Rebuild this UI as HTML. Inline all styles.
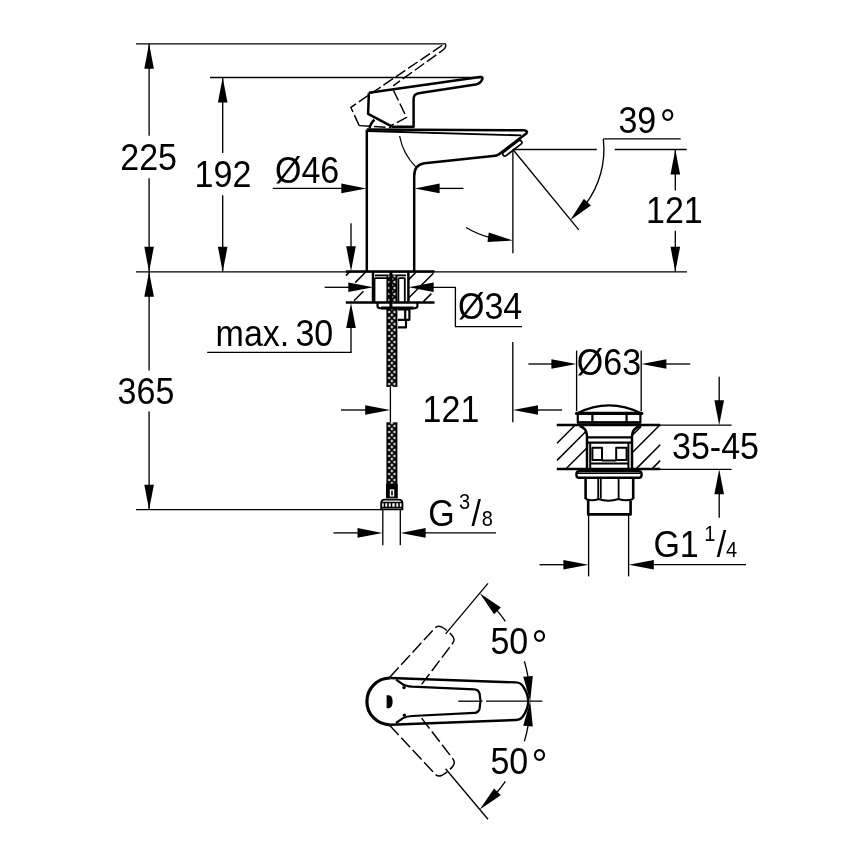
<!DOCTYPE html>
<html><head><meta charset="utf-8"><title>Drawing</title>
<style>
html,body{margin:0;padding:0;background:#fff;}
body{width:868px;height:868px;overflow:hidden;}
svg{display:block;will-change:transform;}
svg text{font-family:"Liberation Sans",Arial,Helvetica,sans-serif;fill:#000;stroke:none;}
</style></head><body>
<svg width="868" height="868" viewBox="0 0 868 868" fill="none" stroke="#000" stroke-linecap="butt" stroke-linejoin="round">
<defs>
<pattern id="braid" x="386.4" y="0" width="11" height="6" patternUnits="userSpaceOnUse">
<rect x="0" y="0" width="11" height="6" fill="#000" stroke="none"/>
<polygon points="4.2,3 5.5,1.3 6.8,3 5.5,4.7" fill="#fff" stroke="none"/>
<polygon points="8.9,-1.7 8.9,1.7 6.5,0" fill="#fff" stroke="none"/>
<polygon points="8.9,4.3 8.9,7.7 6.5,6" fill="#fff" stroke="none"/>
<rect x="1.9" y="-1.1" width="1.8" height="2.2" fill="#fff" stroke="none"/>
<rect x="1.9" y="4.9" width="1.8" height="2.2" fill="#fff" stroke="none"/>
</pattern>
</defs>
<line x1="136" y1="43.8" x2="446" y2="43.8" stroke-width="1.33" />
<line x1="210" y1="77.5" x2="481" y2="77.5" stroke-width="1.33" />
<line x1="136" y1="271.8" x2="687" y2="271.8" stroke-width="1.33" />
<line x1="136" y1="509.7" x2="382" y2="509.7" stroke-width="1.33" />
<line x1="149.1" y1="43.8" x2="149.1" y2="135.8" stroke-width="1.33" />
<line x1="149.1" y1="178.3" x2="149.1" y2="370.6" stroke-width="1.33" />
<line x1="149.1" y1="411.4" x2="149.1" y2="509.7" stroke-width="1.33" />
<polygon points="149.10,43.80 153.90,68.80 144.30,68.80" fill="#000" stroke="none"/>
<polygon points="149.10,271.80 144.30,246.80 153.90,246.80" fill="#000" stroke="none"/>
<polygon points="149.10,271.80 153.90,296.80 144.30,296.80" fill="#000" stroke="none"/>
<polygon points="149.10,509.70 144.30,484.70 153.90,484.70" fill="#000" stroke="none"/>
<text transform="translate(120.3,170) scale(0.932,1)" font-size="36.5" text-anchor="start" >225</text>
<text transform="translate(117.6,403.8) scale(0.932,1)" font-size="36.5" text-anchor="start" >365</text>
<line x1="222.7" y1="77.5" x2="222.7" y2="153.1" stroke-width="1.33" />
<line x1="222.7" y1="195.2" x2="222.7" y2="271.8" stroke-width="1.33" />
<polygon points="222.70,77.50 227.50,102.50 217.90,102.50" fill="#000" stroke="none"/>
<polygon points="222.70,271.80 217.90,246.80 227.50,246.80" fill="#000" stroke="none"/>
<text transform="translate(194.6,187.4) scale(0.932,1)" font-size="36.5" text-anchor="start" >192</text>
<line x1="272.8" y1="188.4" x2="345" y2="188.4" stroke-width="1.33" />
<polygon points="366.30,188.40 341.30,193.20 341.30,183.60" fill="#000" stroke="none"/>
<polygon points="414.60,188.40 439.60,183.60 439.60,193.20" fill="#000" stroke="none"/>
<line x1="436" y1="188.4" x2="463.5" y2="188.4" stroke-width="1.33" />
<text transform="translate(275,183.2) scale(0.932,1)" font-size="36.5" text-anchor="start" >Ø46</text>
<line x1="351" y1="223.2" x2="351" y2="250" stroke-width="1.33" />
<polygon points="351.00,271.30 346.20,246.30 355.80,246.30" fill="#000" stroke="none"/>
<polygon points="351.00,303.00 355.80,328.00 346.20,328.00" fill="#000" stroke="none"/>
<line x1="351" y1="325" x2="351" y2="352.3" stroke-width="1.33" />
<line x1="207.2" y1="352.3" x2="351.7" y2="352.3" stroke-width="1.33" />
<text transform="translate(215.6,345.6) scale(0.932,1)" font-size="36.5" text-anchor="start" >max.</text>
<text transform="translate(295.4,345.6) scale(0.932,1)" font-size="36.5" text-anchor="start" >30</text>
<line x1="324.6" y1="287.3" x2="350" y2="287.3" stroke-width="1.33" />
<polygon points="373.30,287.30 348.30,292.10 348.30,282.50" fill="#000" stroke="none"/>
<polygon points="408.60,287.30 433.60,282.50 433.60,292.10" fill="#000" stroke="none"/>
<path d="M430,287.3 H455.4 V326.7 H522" stroke-width="1.33" />
<text transform="translate(458,319.1) scale(0.932,1)" font-size="36.5" text-anchor="start" >Ø34</text>
<line x1="341" y1="410" x2="368" y2="410" stroke-width="1.33" />
<polygon points="390.20,410.00 365.20,414.80 365.20,405.20" fill="#000" stroke="none"/>
<line x1="390.4" y1="386.9" x2="390.4" y2="422.3" stroke-width="1.33" />
<line x1="512.8" y1="342" x2="512.8" y2="422.2" stroke-width="1.33" />
<polygon points="513.00,410.00 538.00,405.20 538.00,414.80" fill="#000" stroke="none"/>
<line x1="535" y1="410" x2="562" y2="410" stroke-width="1.33" />
<text transform="translate(422.6,421.9) scale(0.932,1)" font-size="36.5" text-anchor="start" >121</text>
<line x1="333.5" y1="532.9" x2="360" y2="532.9" stroke-width="1.33" />
<polygon points="382.50,532.90 357.50,537.70 357.50,528.10" fill="#000" stroke="none"/>
<polygon points="400.60,532.90 425.60,528.10 425.60,537.70" fill="#000" stroke="none"/>
<line x1="423" y1="532.9" x2="496" y2="532.9" stroke-width="1.33" />
<line x1="382.8" y1="509.7" x2="382.8" y2="545.3" stroke-width="1.33" />
<line x1="400.3" y1="509.7" x2="400.3" y2="545.3" stroke-width="1.33" />
<text transform="translate(428.2,526.2) scale(0.932,1)" font-size="36.5" text-anchor="start" >G</text>
<text transform="translate(459,509.2) scale(0.932,1)" font-size="21.5" text-anchor="start" >3</text>
<text transform="translate(471.5,526.2) scale(0.932,1)" font-size="36.5" text-anchor="start" >/</text>
<text transform="translate(481.8,526) scale(0.932,1)" font-size="21.5" text-anchor="start" >8</text>
<line x1="512.9" y1="149.5" x2="596.8" y2="149.5" stroke-width="1.33" />
<line x1="614.8" y1="149.5" x2="686.7" y2="149.5" stroke-width="1.33" />
<line x1="512.9" y1="149.5" x2="512.9" y2="253.3" stroke-width="1.33" />
<line x1="512.9" y1="149.5" x2="578.8" y2="229.9" stroke-width="1.33" />
<line x1="603.4" y1="138.8" x2="680.7" y2="138.8" stroke-width="1.33" />
<path d="M603.28,138.88 A91,91 0 0 1 585.58,204.27" stroke-width="1.33" />
<polygon points="570.17,220.22 583.90,198.78 590.86,205.39" fill="#000" stroke="none"/>
<path d="M466.03,227.50 A91,91 0 0 0 490.89,237.80" stroke-width="1.33" />
<polygon points="512.90,240.50 487.49,242.00 488.74,232.48" fill="#000" stroke="none"/>
<text transform="translate(618.4,133.4) scale(0.932,1)" font-size="36.5" text-anchor="start" >39</text>
<text transform="translate(659.7,138.8) scale(0.932,1)" font-size="43" text-anchor="start" >°</text>
<line x1="675.3" y1="149.5" x2="675.3" y2="190.4" stroke-width="1.33" />
<line x1="675.3" y1="230.8" x2="675.3" y2="271.8" stroke-width="1.33" />
<polygon points="675.30,149.50 680.10,174.50 670.50,174.50" fill="#000" stroke="none"/>
<polygon points="675.30,271.80 670.50,246.80 680.10,246.80" fill="#000" stroke="none"/>
<text transform="translate(646,222.9) scale(0.932,1)" font-size="36.5" text-anchor="start" >121</text>
<path d="M366.8,271.5 V129.8" stroke-width="2.5" />
<path d="M366.8,129.6 L523.5,130.3 Q528.5,130.6 526.3,133.6 L499,154.2 Q497,155.7 493,156.1 L424.5,163.3 Q414.2,164.6 414.2,176 V271.5" stroke-width="2.5" />
<path d="M367,131 L521.3,135.4" stroke-width="1.8" />
<rect x="-11.5" y="-2.1" width="23" height="4.2" rx="2.1" transform="translate(512.3,148.2) rotate(-37.5)" stroke-width="1.7"/>
<path d="M399.6,136 Q403,154 415.6,166.6" stroke-width="1.3" />
<path d="M368.9,92.7 L368.1,113.8 L390.7,125.9 L393,126.7 H413.6 V99 Q413.6,94.2 418.5,93.2 L475.5,84.6 Q480.5,83.6 482.3,79.3 Q483.2,76.6 480,77.1 L368.9,92.7" stroke-width="2.5" />
<path d="M369.6,128.6 Q370.3,123.5 374.4,119.8" stroke-width="2.5" />
<path d="M359.2,125.6 L350.8,107.3 L443.3,44.6 Q446.6,43 445.6,46.5 Q445,48.6 443,50 L393.2,85.8" stroke-width="1.45" stroke-dasharray="11.5 3.4"/>
<path d="M393.4,90.2 L406.6,117.4 L390.7,125.7" stroke-width="1.45" stroke-dasharray="11.5 3.4"/>
<path d="M359.2,125.6 L391,127.6" stroke-width="1.45" stroke-dasharray="11.5 3.4"/>
<line x1="345.8" y1="271.5" x2="434.5" y2="271.5" stroke-width="2.5" />
<line x1="345.8" y1="302.6" x2="434.5" y2="302.6" stroke-width="2.5" />
<line x1="373" y1="271.5" x2="373" y2="302.6" stroke-width="2.5" />
<line x1="408.4" y1="271.5" x2="408.4" y2="302.6" stroke-width="2.5" />
<path d="M375,275.4 H406" stroke-width="1.8" />
<path d="M374.5,278.2 H387 M374.5,278.2 V302 M398.4,278.2 H404.8 V302 M398.4,278.2 V302" stroke-width="1.8" />
<path d="M345.8,275.6 L349.8,271.6 M355.2,282.6 L366,271.8 M354,300.8 L363.5,291.3" stroke-width="1.5" />
<path d="M408.6,279.6 L416,272.2 M408.6,298 L433.4,273.2 M423.6,301.4 L431.4,293.6" stroke-width="1.5" />
<rect x="386.4" y="275.4" width="11" height="27.2" fill="url(#braid)" stroke="none"/>
<rect x="389.4" y="271.5" width="3" height="38" fill="#000" stroke="none"/>
<rect x="386.4" y="308.6" width="11" height="78.3" fill="url(#braid)" stroke="none"/>
<rect x="386.4" y="422.3" width="11" height="61.5" fill="url(#braid)" stroke="none"/>
<path d="M377.5,303 V306 Q377.5,308.2 380.5,308.2 H414.4 Q417.4,308.2 417.4,306 V303" stroke-width="2.1" />
<path d="M381,308 H413.6" stroke-width="3" />
<path d="M398,309.4 H409.4 V319.8 H398 M405.2,309.4 V319.8 M398,319.8 H406 V327.4 H398" stroke-width="2.2" />
<rect x="386" y="483.5" width="11.8" height="14.8" fill="#000" stroke="none"/>
<rect x="389.8" y="489.4" width="4.4" height="7.2" fill="#fff" stroke="none"/>
<rect x="391.2" y="490.8" width="1.6" height="4.6" fill="#000" stroke="none"/>
<path d="M381.2,509.4 V503 Q381.2,499.6 385,499.6 H398.6 Q402.4,499.6 402.4,503 V509.4 Z" stroke-width="1.9" fill="#fff"/>
<path d="M381.2,502.6 H402.4 M381.2,507.4 H402.4" stroke-width="1.5" />
<path d="M384.5,502.6 V507.4 M388,502.6 V507.4 M391.5,502.6 V507.4 M395.5,502.6 V507.4 M399,502.6 V507.4" stroke-width="1.6" />
<line x1="576.6" y1="350.6" x2="576.6" y2="411" stroke-width="1.33" />
<line x1="641.2" y1="350.6" x2="641.2" y2="411" stroke-width="1.33" />
<line x1="528.4" y1="364" x2="553" y2="364" stroke-width="1.33" />
<polygon points="576.40,364.00 551.40,368.80 551.40,359.20" fill="#000" stroke="none"/>
<polygon points="641.40,364.00 666.40,359.20 666.40,368.80" fill="#000" stroke="none"/>
<line x1="664" y1="364" x2="690.3" y2="364" stroke-width="1.33" />
<text transform="translate(576.8,375) scale(0.932,1)" font-size="36.5" text-anchor="start" >Ø63</text>
<line x1="556.8" y1="425" x2="660.3" y2="425" stroke-width="2.7" />
<line x1="556.8" y1="469" x2="660.3" y2="469" stroke-width="2.7" />
<line x1="660" y1="425.2" x2="731.6" y2="425.2" stroke-width="1.33" />
<line x1="660" y1="469.3" x2="731.6" y2="469.3" stroke-width="1.33" />
<line x1="719.2" y1="376.8" x2="719.2" y2="402" stroke-width="1.33" />
<polygon points="719.20,425.20 714.40,400.20 724.00,400.20" fill="#000" stroke="none"/>
<polygon points="719.20,469.30 724.00,494.30 714.40,494.30" fill="#000" stroke="none"/>
<line x1="719.2" y1="492" x2="719.2" y2="517.7" stroke-width="1.33" />
<text transform="translate(672,459.1) scale(0.932,1)" font-size="36.5" text-anchor="start" >35-45</text>
<path d="M577,413.4 Q608.8,397.4 641.4,413.4" stroke-width="2.2" />
<path d="M576.6,413.4 H641.8" stroke-width="3.2" stroke-linecap="round"/>
<path d="M577.8,414 V422.4 H640.4 V414 M592.4,414 V422.4 M626.6,414 V422.4" stroke-width="2.2" />
<path d="M577,422.6 H641" stroke-width="2.4" />
<path d="M579.6,426 Q586.6,428 587,436 V468.5 M640.8,426 Q632.4,428 632,436 V468.5" stroke-width="2.5" />
<path d="M587,437.4 H632 M587,442.6 H632" stroke-width="2.2" />
<path d="M590.2,443 V468 M628.4,443 V468" stroke-width="2.0" />
<path d="M592.4,447.8 H602 V460 H592.4 Z M616.2,447.8 H626.6 V460 H616.2 Z" stroke-width="2.0" />
<path d="M602,460.4 H616.2 M590.2,463.4 H628.4" stroke-width="2.0" />
<path d="M557,443.2 L575,425.2 M557,460.4 L585.6,431.8 M566,468.8 L586.6,448.2" stroke-width="1.5" />
<path d="M632.6,435 L641.2,426.4 M632.6,452.2 L659.6,425.2 M636.4,468.6 L660.2,444.8 M652.2,468.6 L660.2,460.6" stroke-width="1.5" />
<path d="M579,471.2 H639 Q641.6,471.2 641.6,474.4 Q641.6,477.8 639,477.8 H579 Q576.4,477.8 576.4,474.4 Q576.4,471.2 579,471.2 Z" stroke-width="2.4" />
<path d="M578,473.4 H640" stroke-width="1.4" />
<path d="M585.6,478.4 V499 M633.2,478.4 V499" stroke-width="2.6" />
<path d="M598.2,478.4 V498.6 M600.8,478.4 V498.6 M618.6,478.4 V498.6" stroke-width="1.8" />
<path d="M585.6,499 Q592,501.6 598.6,499 Q608,502.4 618.6,499 Q626,501.6 633.2,499" stroke-width="2.0" />
<path d="M588.2,500.4 V514.4 H630.6 V500.4" stroke-width="2.6" />
<line x1="588.6" y1="514.8" x2="588.6" y2="576.4" stroke-width="1.33" />
<line x1="628.6" y1="514.8" x2="628.6" y2="576.4" stroke-width="1.33" />
<line x1="539.5" y1="564.7" x2="565" y2="564.7" stroke-width="1.33" />
<polygon points="588.40,564.70 563.40,569.50 563.40,559.90" fill="#000" stroke="none"/>
<polygon points="628.80,564.70 653.80,559.90 653.80,569.50" fill="#000" stroke="none"/>
<line x1="652" y1="564.7" x2="746" y2="564.7" stroke-width="1.33" />
<text transform="translate(653.4,557.1) scale(0.932,1)" font-size="36.5" text-anchor="start" >G1</text>
<text transform="translate(704.2,540.7) scale(0.932,1)" font-size="21.5" text-anchor="start" >1</text>
<text transform="translate(716.7,557.1) scale(0.932,1)" font-size="36.5" text-anchor="start" >/</text>
<text transform="translate(726,557.1) scale(0.932,1)" font-size="21.5" text-anchor="start" >4</text>
<path d="M390.3,678 A23.4,23.4 0 0 0 390.3,724.8" stroke-width="3.2" />
<path d="M390.3,678 L516,682.4 Q521,682.6 523.4,687 Q528.2,694 528.2,701.2 Q528.2,708.4 523.4,715.6 Q521,719.8 516,720 L390.3,724.8" stroke-width="2.4" />
<path d="M396,679.6 L402.6,684.2 Q405.6,686 412,686.6 L474.4,689.4 Q478.4,689.6 479.6,693.6 Q481.4,701.2 479.6,708.8 Q478.4,712.6 474.4,712.8 L412,716 Q405.6,716.6 402.6,718.4 L396,723" stroke-width="2.2" />
<circle cx="404" cy="687.6" r="1.7" fill="#000" stroke="none"/>
<circle cx="404.4" cy="715.2" r="1.7" fill="#000" stroke="none"/>
<path d="M386.6,695.2 H389 Q392.6,695.4 392.6,701.6 Q392.6,708 389,708.2 H386.6 Z" fill="#000" stroke="none"/>
<line x1="458.3" y1="701.2" x2="482.5" y2="701.2" stroke-width="1.33" />
<line x1="486" y1="701.2" x2="542.4" y2="701.2" stroke-width="1.33" />
<line x1="445.57" y1="633.89" x2="487.99" y2="583.33" stroke-width="1.33" />
<polygon points="479.76,593.13 500.83,607.42 494.05,614.21" fill="#000" stroke="none"/>
<path d="M496.37,609.60 A141.2,141.2 0 0 1 505.37,621.32" stroke-width="1.33" />
<path d="M524.39,661.20 A141.2,141.2 0 0 1 528.26,678.00" stroke-width="1.33" />
<polygon points="530.20,701.30 523.24,676.81 532.80,675.98" fill="#000" stroke="none"/>
<path d="M408,686.4 L474.4,689.4 Q478.4,689.6 479.6,693.6 Q481.4,701.2 479.6,708.8 Q478.4,712.6 474.4,712.8 L419.5,715.6" stroke-width="1.45" stroke-dasharray="13 3.8" transform="rotate(-50 389 701.3)"/>
<line x1="445.57" y1="768.71" x2="487.99" y2="819.27" stroke-width="1.33" />
<polygon points="479.76,809.47 494.05,788.39 500.83,795.18" fill="#000" stroke="none"/>
<path d="M496.37,793.00 A141.2,141.2 0 0 0 505.37,781.28" stroke-width="1.33" />
<path d="M524.39,741.40 A141.2,141.2 0 0 0 528.26,724.60" stroke-width="1.33" />
<polygon points="530.20,701.30 532.80,726.62 523.24,725.79" fill="#000" stroke="none"/>
<path d="M408,716.2 L474.4,712.8 Q478.4,712.6 479.6,708.8 Q481.4,701.2 479.6,693.6 Q478.4,689.6 474.4,689.4 L419.5,687" stroke-width="1.45" stroke-dasharray="13 3.8" transform="rotate(50 389 701.3)"/>
<text transform="translate(490.4,654.3) scale(0.932,1)" font-size="36.5" text-anchor="start" >50</text>
<text transform="translate(531.6,659.6) scale(0.932,1)" font-size="43" text-anchor="start" >°</text>
<text transform="translate(490.4,774) scale(0.932,1)" font-size="36.5" text-anchor="start" >50</text>
<text transform="translate(531.6,779.3) scale(0.932,1)" font-size="43" text-anchor="start" >°</text>
</svg>
</body></html>
